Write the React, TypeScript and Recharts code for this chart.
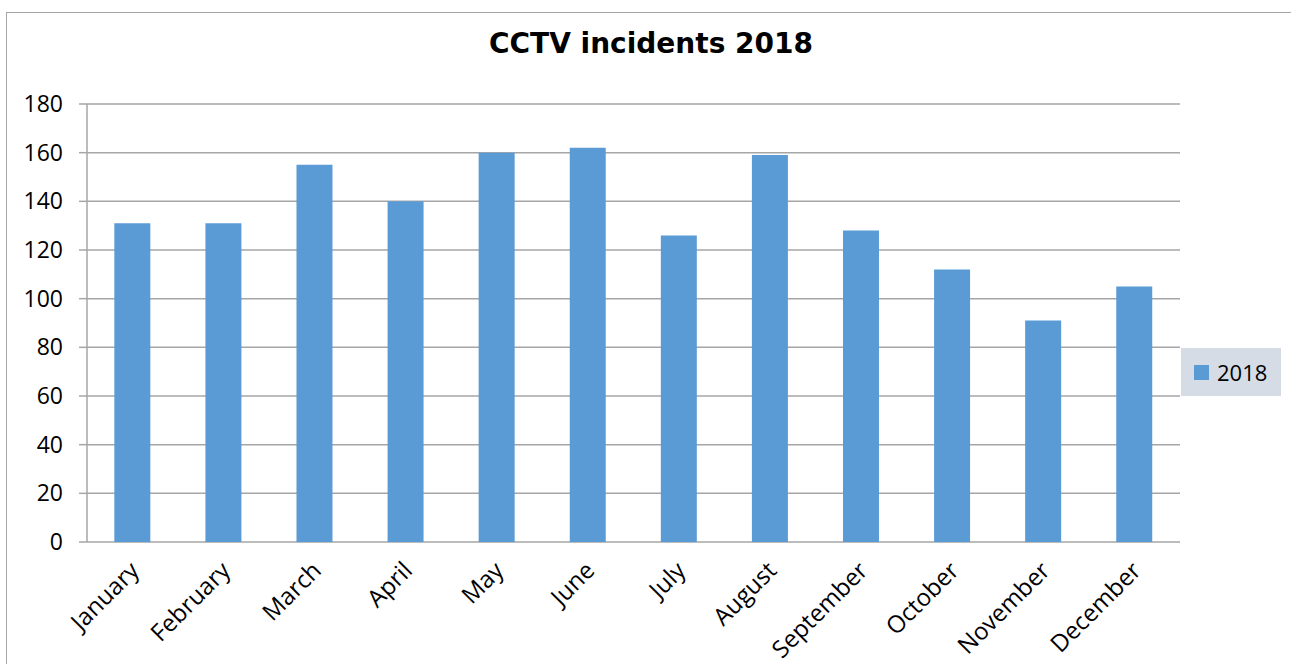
import { Bar, BarChart, CartesianGrid, XAxis, YAxis } from 'recharts';

const months = [
  'January', 'February', 'March', 'April', 'May', 'June',
  'July', 'August', 'September', 'October', 'November', 'December',
];
const incidents2018 = [131, 131, 155, 140, 160, 162, 126, 159, 128, 112, 91, 105];
const yTicks = [0, 20, 40, 60, 80, 100, 120, 140, 160, 180];
const edgeTicks = [0, 1, 2, 3, 4, 5, 6, 7, 8, 9, 10, 11, 12];

const data = months.map((m, i) => ({ month: m, edge: i + 0.5, v2018: incidents2018[i] }));

const axisGray = '#a6a6a6';
const barBlue = '#5b9bd5';
const labelFont = '"Open Sans", "Noto Sans", sans-serif';

function LegendBox() {
  return (
    <div
      style={{
        position: 'absolute',
        left: 1174,
        top: 335,
        width: 100,
        height: 48,
        background: '#d6dce5',
        display: 'flex',
        alignItems: 'center',
        fontFamily: labelFont,
        fontSize: 22,
        color: '#000',
      }}
    >
      <span style={{ width: 15, height: 15, background: barBlue, marginLeft: 13, marginRight: 8 }} />
      <span>2018</span>
    </div>
  );
}

export default function App() {
  return (
    <div
      style={{
        position: 'absolute',
        left: 6,
        top: 12,
        width: 1290,
        height: 652,
        borderTop: `1.5px solid ${axisGray}`,
        borderLeft: `1.5px solid ${axisGray}`,
        background: '#fff',
        overflow: 'hidden',
      }}
    >
      <div
        style={{
          position: 'absolute',
          left: 0,
          width: 1288,
          top: 14,
          textAlign: 'center',
          fontFamily: '"DejaVu Sans", Verdana, sans-serif',
          fontWeight: 'bold',
          fontSize: 28,
          color: '#000',
        }}
      >
        CCTV incidents 2018
      </div>
      <BarChart
        width={1282}
        height={651}
        data={data}
        margin={{ top: 91, right: 109, bottom: 2, left: 0 }}
        barCategoryGap="30%"
      >
        <CartesianGrid vertical={false} stroke={axisGray} strokeWidth={1.5} />
        <XAxis
          xAxisId="edges"
          dataKey="edge"
          type="number"
          domain={[0, 12]}
          ticks={edgeTicks}
          height={0}
          tickSize={8}
          tickFormatter={() => ''}
          stroke={axisGray}
          strokeWidth={1.5}
        />
        <XAxis
          xAxisId="cats"
          dataKey="month"
          height={120}
          axisLine={false}
          tickLine={false}
          interval={0}
          angle={-45}
          textAnchor="end"
          tickMargin={12}
          dx={-4}
          tick={{ fill: '#000', fontSize: 24, fontFamily: labelFont }}
        />
        <YAxis
          width={80}
          domain={[0, 180]}
          ticks={yTicks}
          interval={0}
          tickSize={8}
          tickMargin={16}
          stroke={axisGray}
          strokeWidth={1.5}
          tick={{ fill: '#000', fontSize: 23, fontFamily: labelFont }}
        />
        <Bar xAxisId="cats" dataKey="v2018" name="2018" fill={barBlue} isAnimationActive={false} />
      </BarChart>
      <LegendBox />
    </div>
  );
}
